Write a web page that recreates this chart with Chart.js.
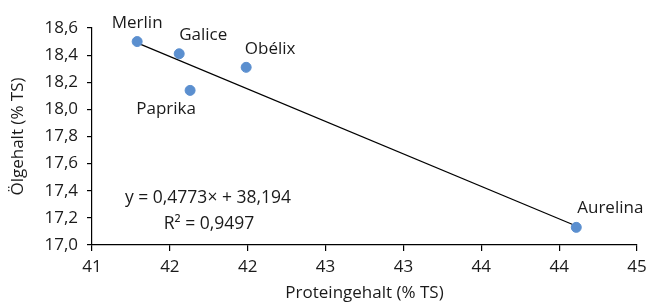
<!DOCTYPE html>
<html><head><meta charset="utf-8">
<script src="https://cdn.jsdelivr.net/npm/chart.js@4/dist/chart.umd.min.js"></script>
<style>html,body{margin:0;padding:0;background:#fff}</style>
</head><body>
<canvas id="c" width="646" height="304"></canvas>
<script>
// ---- data ----
const varieties = ['Merlin', 'Galice', 'Obélix', 'Paprika', 'Aurelina'];
const proteinValues = [41.29, 41.56, 41.99, 41.63, 44.11];
const oilValues = [18.50, 18.41, 18.31, 18.14, 17.13];
const trendX = [41.29, 44.11];
const trendY = [18.49, 17.14];
const xTickLabels = ['41', '42', '42', '43', '43', '44', '44', '45'];
const equationLines = ['y = 0,4773× + 38,194', 'R² = 0,9497'];

// ---- styling ----
const FONT = '"Open Sans", "DejaVu Sans", sans-serif';
const TEXT = '#1a1a1a';
const labelOffsets = [[0, -18], [24, -19], [24, -18], [-24, 19], [34, -19]];

const labelPlugin = {
  id: 'pointLabels',
  afterDatasetsDraw(chart) {
    const ctx = chart.ctx;
    const meta = chart.getDatasetMeta(1);
    ctx.save();
    ctx.font = '17px ' + FONT;
    ctx.fillStyle = TEXT;
    ctx.textAlign = 'center';
    ctx.textBaseline = 'middle';
    meta.data.forEach((pt, i) => {
      const o = labelOffsets[i];
      ctx.fillText(varieties[i], pt.x + o[0], pt.y + o[1]);
    });
    const ca = chart.chartArea;
    ctx.font = '17.5px ' + FONT;
    ctx.fillText(equationLines[0], ca.left + 116, ca.top + 170);
    ctx.fillText(equationLines[1], ca.left + 117, ca.top + 196);
    ctx.restore();
  }
};

new Chart(document.getElementById('c'), {
  type: 'scatter',
  data: {
    datasets: [
      {
        type: 'line',
        data: trendX.map((x, i) => ({x: x, y: trendY[i]})),
        borderColor: '#000',
        borderWidth: 1.2,
        pointRadius: 0,
        fill: false,
        order: 2
      },
      {
        data: proteinValues.map((x, i) => ({x: x, y: oilValues[i]})),
        backgroundColor: '#5b8fcf',
        borderColor: '#5b8fcf',
        pointRadius: 5,
        pointHoverRadius: 5,
        order: 1
      }
    ]
  },
  options: {
    responsive: false,
    animation: false,
    layout: {padding: {left: 0, right: 9, top: 28, bottom: 0}},
    plugins: {legend: {display: false}, tooltip: {enabled: false}},
    scales: {
      x: {
        type: 'linear',
        min: 41, max: 44.5,
        afterFit: s => { s.height = 59; s.paddingLeft = 0; s.paddingRight = 0; },
        border: {display: true, color: '#000', width: 1.2},
        grid: {display: true, drawOnChartArea: false, drawTicks: true, tickLength: 6, color: '#000', lineWidth: 1.2},
        ticks: {
          stepSize: 0.5,
          padding: 6,
          color: TEXT,
          font: {family: FONT, size: 17},
          maxRotation: 0,
          callback: (v, i) => xTickLabels[i]
        },
        title: {display: true, text: 'Proteingehalt (% TS)', color: TEXT, font: {family: FONT, size: 17}, padding: {top: 0, bottom: 1}}
      },
      y: {
        type: 'linear',
        min: 17.0, max: 18.6,
        afterFit: s => { s.width = 92; s.paddingTop = 0; s.paddingBottom = 0; },
        border: {display: true, color: '#000', width: 1.2},
        grid: {display: true, drawOnChartArea: false, drawTicks: true, tickLength: 5, color: '#000', lineWidth: 1.2},
        ticks: {
          stepSize: 0.2,
          padding: 9,
          color: TEXT,
          font: {family: FONT, size: 17},
          callback: v => v.toFixed(1).replace('.', ',')
        },
        title: {display: true, text: 'Ölgehalt (% TS)', color: TEXT, font: {family: FONT, size: 17}, padding: {top: 8, bottom: 0}}
      }
    }
  },
  plugins: [labelPlugin]
});
</script>
</body></html>
